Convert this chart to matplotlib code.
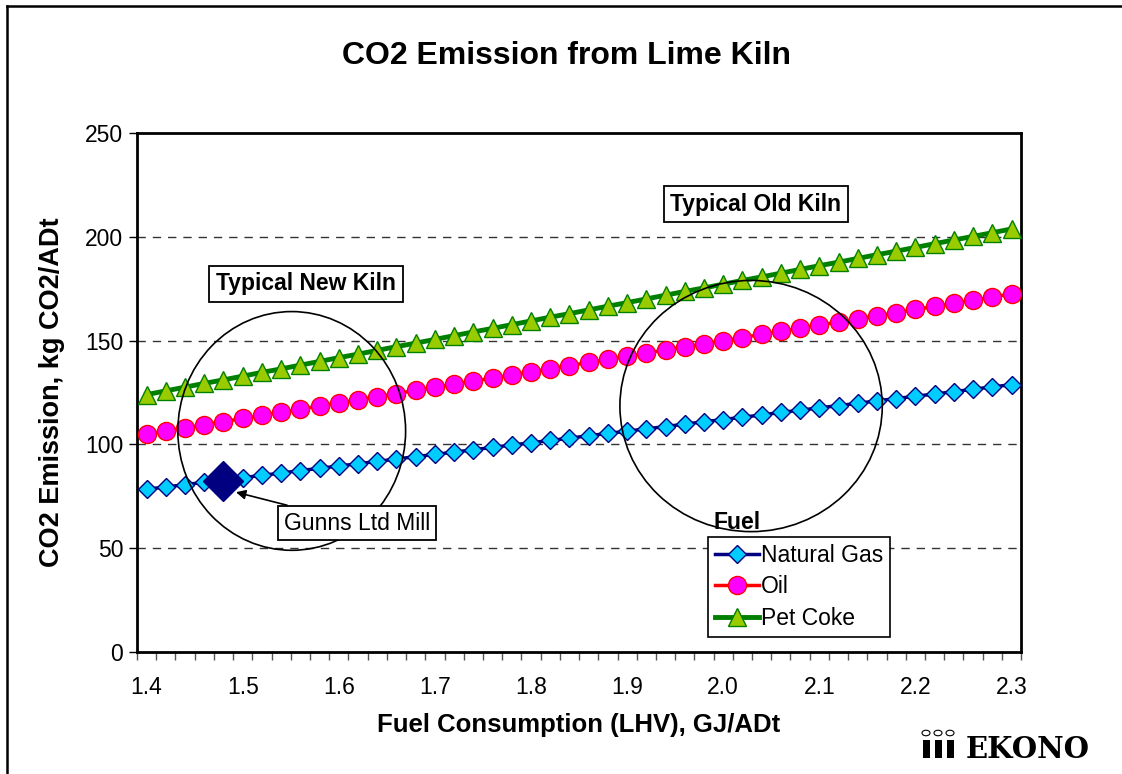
import matplotlib
matplotlib.use("Agg")
import matplotlib.pyplot as plt
from matplotlib.patches import Ellipse, Circle, Rectangle
from matplotlib.lines import Line2D
import numpy as np

plt.rcParams['font.family'] = ['Liberation Sans', 'DejaVu Sans']

# fuel consumption, GJ/ADt
fuel = [1.40, 1.42, 1.44, 1.46, 1.48, 1.50, 1.52, 1.54, 1.56, 1.58,
        1.60, 1.62, 1.64, 1.66, 1.68, 1.70, 1.72, 1.74, 1.76, 1.78,
        1.80, 1.82, 1.84, 1.86, 1.88, 1.90, 1.92, 1.94, 1.96, 1.98,
        2.00, 2.02, 2.04, 2.06, 2.08, 2.10, 2.12, 2.14, 2.16, 2.18,
        2.20, 2.22, 2.24, 2.26, 2.28, 2.30]

# CO2 emission, kg CO2/ADt
natural_gas = [78.4, 79.5, 80.6, 81.8, 82.9, 84.0, 85.1, 86.2, 87.4, 88.5,
               89.6, 90.7, 91.8, 93.0, 94.1, 95.2, 96.3, 97.4, 98.6, 99.7,
               100.8, 101.9, 103.0, 104.2, 105.3, 106.4, 107.5, 108.6, 109.8, 110.9,
               112.0, 113.1, 114.2, 115.4, 116.5, 117.6, 118.7, 119.8, 121.0, 122.1,
               123.2, 124.3, 125.4, 126.6, 127.7, 128.8]
oil = [105.0, 106.5, 108.0, 109.5, 111.0, 112.5, 114.0, 115.5, 117.0, 118.5,
       120.0, 121.5, 123.0, 124.5, 126.0, 127.5, 129.0, 130.5, 132.0, 133.5,
       135.0, 136.5, 138.0, 139.5, 141.0, 142.5, 144.0, 145.5, 147.0, 148.5,
       150.0, 151.5, 153.0, 154.5, 156.0, 157.5, 159.0, 160.5, 162.0, 163.5,
       165.0, 166.5, 168.0, 169.5, 171.0, 172.5]
pet_coke = [124.0, 125.8, 127.6, 129.4, 131.1, 132.9, 134.7, 136.4, 138.2, 140.0,
            141.8, 143.5, 145.3, 147.1, 148.8, 150.6, 152.4, 154.2, 155.9, 157.7,
            159.5, 161.3, 163.0, 164.8, 166.6, 168.3, 170.1, 171.9, 173.7, 175.4,
            177.2, 179.0, 180.7, 182.5, 184.3, 186.1, 187.8, 189.6, 191.4, 193.1,
            194.9, 196.7, 198.5, 200.2, 202.0, 203.8]

mill_x, mill_y = 1.48, 82.5
x_labels = [1.4, 1.5, 1.6, 1.7, 1.8, 1.9, 2.0, 2.1, 2.2, 2.3]
y_ticks = [0, 50, 100, 150, 200, 250]

fig = plt.figure(figsize=(11.22, 7.74), dpi=100)
ax = fig.add_axes([0.1221, 0.1576, 0.788, 0.6705])

for y in [50, 100, 150, 200]:
    ax.axhline(y, color='#333333', lw=1, ls=(0, (6, 5)), zorder=1)

ax.plot(fuel, natural_gas, color='#000080', lw=2.5, marker='D', ms=9.5,
        mfc='#00CCFF', mec='#000080', mew=1, label='Natural Gas', zorder=3)
ax.plot(fuel, oil, color='#FF0000', lw=2.5, marker='o', ms=13,
        mfc='#FF00FF', mec='#FF0000', mew=1, label='Oil', zorder=3)
ax.plot(fuel, pet_coke, color='#008000', lw=3.5, marker='^', ms=13,
        mfc='#99CC00', mec='#008000', mew=1, label='Pet Coke', zorder=3)

ax.plot([mill_x], [mill_y], marker='D', ms=20, color='#000080', zorder=5)

# kiln circles
ax.add_patch(Ellipse((1.551, 106.5), 0.237, 115, fill=False, ec='black', lw=1.2, zorder=6))
ax.add_patch(Ellipse((2.029, 118.5), 0.273, 121, fill=False, ec='black', lw=1.2, zorder=6))

box = dict(boxstyle='square,pad=0.3', fc='white', ec='black', lw=1.3)
ax.text(1.566, 177.3, 'Typical New Kiln', fontsize=16.5, fontweight='bold',
        ha='center', va='center', bbox=box, zorder=7)
ax.text(2.034, 215.8, 'Typical Old Kiln', fontsize=16.5, fontweight='bold',
        ha='center', va='center', bbox=box, zorder=7)
ax.annotate('Gunns Ltd Mill', xy=(1.493, 77.0), xytext=(1.619, 62.1),
            fontsize=16.5, ha='center', va='center', zorder=7,
            bbox=dict(boxstyle='square,pad=0.25', fc='white', ec='black', lw=1.3),
            arrowprops=dict(arrowstyle='-|>', color='black', lw=1.2,
                            mutation_scale=14, shrinkA=0, shrinkB=0))

ax.set_xlim(1.39, 2.31)
ax.set_ylim(0, 250)
ax.set_yticks(y_ticks)
ax.set_xticks(x_labels)
ax.set_xticklabels(['%.1f' % v for v in x_labels])
ax.set_xticks(np.round(np.arange(1.39, 2.3101, 0.02), 2), minor=True)
ax.tick_params(axis='x', which='major', length=0, pad=17, labelsize=16.5)
ax.tick_params(axis='x', which='minor', length=6, width=1, color='#555555', direction='out')
ax.tick_params(axis='y', which='major', length=6, width=1, pad=4, labelsize=16.5)
for s in ax.spines.values():
    s.set_linewidth(2)

ax.set_xlabel('Fuel Consumption (LHV), GJ/ADt', fontsize=18.5, fontweight='bold', labelpad=10)
ax.set_ylabel('CO2 Emission, kg CO2/ADt', fontsize=19.5, fontweight='bold', labelpad=14)
fig.text(0.505, 0.928, 'CO2 Emission from Lime Kiln', fontsize=23, fontweight='bold',
         ha='center', va='center')

leg = ax.legend(loc='upper left', bbox_to_anchor=(0.646, 0.222), fontsize=16.5,
                frameon=True, fancybox=False, edgecolor='black', framealpha=1,
                handlelength=1.9, labelspacing=0.38, borderpad=0.3,
                handletextpad=0.1, borderaxespad=0)
leg.get_frame().set_linewidth(1.2)
leg.set_zorder(8)
ax.text(0.652, 0.25, 'Fuel', transform=ax.transAxes, fontsize=16.5,
        fontweight='bold', ha='left', va='center')

# outer chart frame (top and left edges visible)
fig.add_artist(Line2D([7 / 1122, 7 / 1122], [0, 1 - 6 / 774], transform=fig.transFigure,
                      color='black', lw=1.8))
fig.add_artist(Line2D([7 / 1122, 1], [1 - 6 / 774, 1 - 6 / 774], transform=fig.transFigure,
                      color='black', lw=1.8))

# EKONO logo
W, H = 1122.0, 774.0
for cx in [926, 938, 950]:
    fig.add_artist(Circle((cx / W, 1 - 733 / H), 4 / W, transform=fig.transFigure,
                          fill=False, ec='black', lw=0.8))
    fig.add_artist(Rectangle(((cx - 3.5) / W, 1 - 758 / H), 7 / W, 18 / H,
                             transform=fig.transFigure, fc='black', ec='none'))
fig.text(966 / W, 1 - 758 / H, 'EKONO', fontsize=21, fontweight='bold',
         family=['DejaVu Serif'], ha='left', va='baseline')

fig.savefig('out.png', dpi=100)
